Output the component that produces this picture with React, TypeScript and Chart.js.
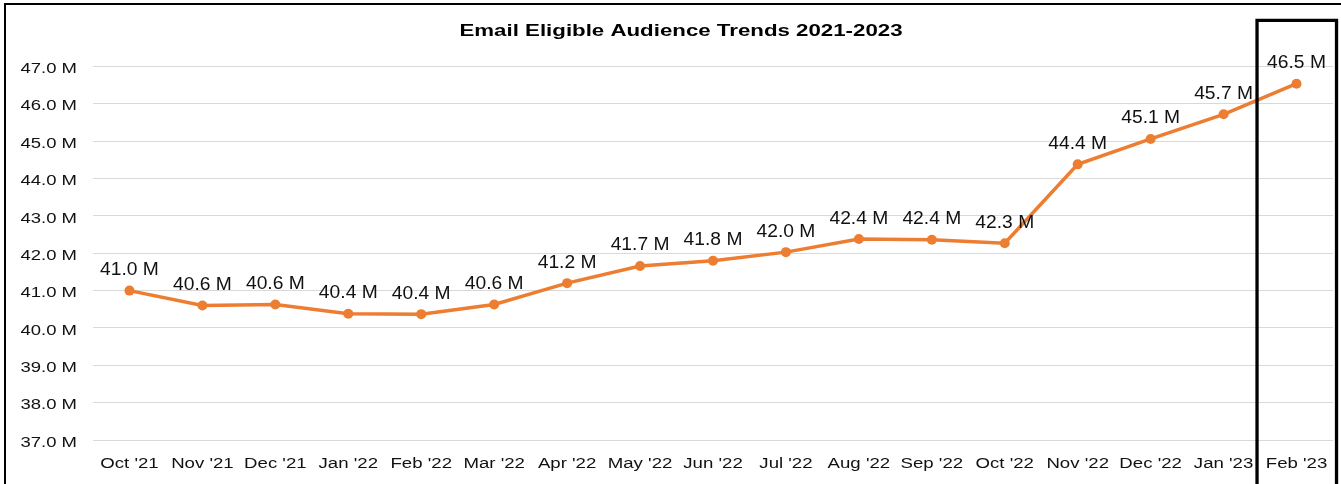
import React, { useEffect, useRef } from "react";
import { Chart, registerables } from "chart.js";

Chart.register(...registerables);

const TITLE = "Email Eligible Audience Trends 2021-2023";
const categories = [
  "Oct '21", "Nov '21", "Dec '21", "Jan '22", "Feb '22", "Mar '22", "Apr '22", "May '22",
  "Jun '22", "Jul '22", "Aug '22", "Sep '22", "Oct '22", "Nov '22", "Dec '22", "Jan '23", "Feb '23",
];
const audienceMillions = [
  41.0, 40.6, 40.63, 40.38, 40.37, 40.63, 41.2, 41.66,
  41.8, 42.03, 42.38, 42.36, 42.27, 44.38, 45.06, 45.72, 46.54,
];
const Y_MIN = 37;
const Y_MAX = 47;
const Y_STEP = 1;
const HIGHLIGHT_INDEX = 16;

const FONT = "'Liberation Sans', Arial, sans-serif";
const fmt = (v: number) => `${v.toFixed(1)} M`;

function stretchText(
  ctx: CanvasRenderingContext2D,
  text: string,
  x: number,
  y: number,
  align: CanvasTextAlign,
  scaleX: number
) {
  ctx.save();
  ctx.translate(x, y);
  ctx.scale(scaleX, 1);
  ctx.textAlign = align;
  ctx.textBaseline = "alphabetic";
  ctx.fillText(text, 0, 0);
  ctx.restore();
}

const decorPlugin = {
  id: "decor",
  afterDraw(chart: any) {
    const ctx: CanvasRenderingContext2D = chart.ctx;
    const xs = chart.scales.x;
    const ys = chart.scales.y;
    ctx.save();
    // title
    ctx.fillStyle = "#000";
    ctx.font = `bold 17px ${FONT}`;
    stretchText(ctx, TITLE, (chart.chartArea.left + chart.chartArea.right) / 2 - 32, 36, "center", 1.31);

    // y ticks
    ctx.fillStyle = "#111";
    ctx.font = `15.4px ${FONT}`;
    ys.ticks.forEach((t: any, i: number) => {
      const y = ys.getPixelForTick(i);
      stretchText(ctx, fmt(t.value), chart.chartArea.left - 16, y + 6.6, "right", 1.2);
    });
    // x ticks
    categories.forEach((c, i) => {
      const x = xs.getPixelForValue(i);
      stretchText(ctx, c, x, chart.chartArea.bottom + 28, "center", 1.21);
    });

    // data labels
    ctx.font = `17.5px ${FONT}`;
    const meta = chart.getDatasetMeta(0);
    meta.data.forEach((pt: any, i: number) => {
      stretchText(ctx, fmt(audienceMillions[i]), pt.x, pt.y - 15.5, "center", 1.1);
    });

    // highlight box
    const cx = xs.getPixelForValue(HIGHLIGHT_INDEX);
    ctx.strokeStyle = "#000";
    ctx.lineWidth = 3.3;
    ctx.beginPath();
    ctx.moveTo(cx - 39.5, chart.height + 5);
    ctx.lineTo(cx - 39.5, 20.3);
    ctx.lineTo(cx + 40, 20.3);
    ctx.lineTo(cx + 40, chart.height + 5);
    ctx.stroke();

    // outer frame (left and top edges visible)
    ctx.lineWidth = 2;
    ctx.beginPath();
    ctx.moveTo(5, chart.height + 5);
    ctx.lineTo(5, 4);
    ctx.lineTo(chart.width + 5, 4);
    ctx.stroke();
    ctx.restore();
  },
};

export default function App() {
  const ref = useRef<HTMLCanvasElement | null>(null);
  useEffect(() => {
    if (!ref.current) return;
    const chart = new Chart(ref.current, {
      type: "line",
      data: {
        labels: categories,
        datasets: [
          {
            data: audienceMillions,
            borderColor: "#ED7D31",
            backgroundColor: "#ED7D31",
            borderWidth: 3.5,
            pointRadius: 5,
            pointBackgroundColor: "#ED7D31",
            pointBorderWidth: 0,
            tension: 0,
          },
        ],
      },
      options: {
        animation: false,
        responsive: false,
        devicePixelRatio: 1,
        layout: { padding: { top: 66.5, right: 8, bottom: 0, left: 0 } },
        plugins: {
          legend: { display: false },
          title: { display: false },
          tooltip: { enabled: false },
        },
        scales: {
          x: {
            type: "category",
            offset: true,
            grid: { display: false, drawTicks: false },
            border: { display: false },
            ticks: { display: false },
            afterFit: (s: any) => {
              s.height = 44;
            },
          },
          y: {
            min: Y_MIN,
            max: Y_MAX,
            ticks: { display: false, stepSize: Y_STEP },
            grid: { color: "#d9d9d9", lineWidth: 1, drawTicks: false },
            border: { display: false },
            afterFit: (s: any) => {
              s.width = 93;
            },
          },
        },
      },
      plugins: [decorPlugin],
    });
    return () => chart.destroy();
  }, []);
  return (
    <div style={{ position: "absolute", left: 0, top: 0, width: 1341, height: 484, background: "#fff" }}>
      <canvas ref={ref} width={1341} height={484} style={{ width: 1341, height: 484, display: "block" }} />
    </div>
  );
}
